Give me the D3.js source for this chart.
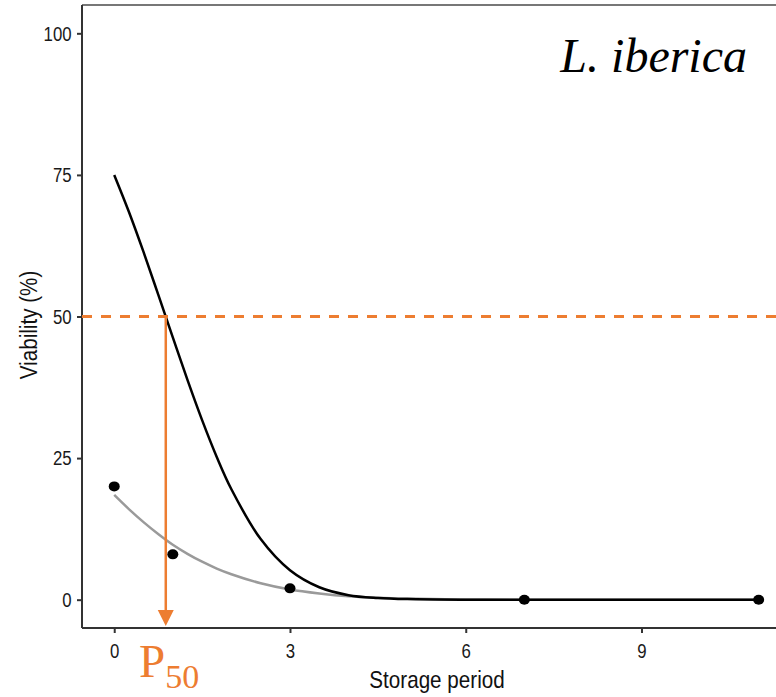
<!DOCTYPE html>
<html>
<head>
<meta charset="utf-8">
<script src="https://cdn.jsdelivr.net/npm/d3@7"></script>
<style>
  body { margin: 0; background: #fff; }
  svg { display: block; }
</style>
</head>
<body>
<svg id="chart" width="776" height="697"></svg>
<script>
// observed viability (%) at each storage period
var obsPeriod = [0, 1, 3, 7, 11];
var obsViab = [20, 8, 2, 0, 0];

// fitted curves
var fitPeriod = [0, 0.25, 0.5, 0.75, 1, 1.25, 1.5, 1.75, 2, 2.5, 3, 3.5, 4, 4.5, 5, 6, 7, 9, 11];
var blackFit = [75, 68.5, 61.4, 53.9, 46.3, 38.8, 31.7, 25.2, 19.5, 10.7, 5.2, 2.2, 0.8, 0.3, 0.1, 0, 0, 0, 0];
var greyFit = [18.5, 16, 13.7, 11.6, 9.7, 8.1, 6.7, 5.5, 4.5, 2.9, 1.8, 1.1, 0.6, 0.35, 0.2, 0.05, 0, 0, 0];

var xTicks = [0, 3, 6, 9];
var yTicks = [0, 25, 50, 75, 100];
var p50 = 0.88;        // period where the black fit crosses 50 %
var cutLine = 50;
var species = "L. iberica";

var svg = d3.select("#chart");
var squish = 0.8;      // ggplot text in the picture is horizontally squeezed

var x = d3.scaleLinear().domain([-0.55, 11.55]).range([82, 790.9]);
var y = d3.scaleLinear().domain([-5, 105]).range([628, 5]);

// panel border (top line visible, right edge cropped)
svg.append("line")
  .attr("x1", 82).attr("x2", 776).attr("y1", 5).attr("y2", 5)
  .style("stroke", "#777").style("stroke-width", 2);

// axes
var yAxis = svg.append("g")
  .attr("transform", "translate(82,0)")
  .call(d3.axisLeft(y).tickValues(yTicks).tickSize(5).tickPadding(8));
var xAxis = svg.append("g")
  .attr("transform", "translate(0,628)")
  .call(d3.axisBottom(x).tickValues(xTicks).tickSize(5).tickPadding(10));

[yAxis, xAxis].forEach(function (ax) {
  ax.select(".domain").style("stroke", "#333").style("stroke-width", 2);
  ax.selectAll(".tick line").style("stroke", "#333").style("stroke-width", 2);
  ax.selectAll(".tick text")
    .style("font-family", "Liberation Sans, Arial, sans-serif")
    .style("font-size", "21px")
    .style("fill", "#1a1a1a")
    .attr("transform", "scale(" + squish + ",1)");
});
// make y domain reach the top border
yAxis.select(".domain").attr("d", "M0,5V628");
xAxis.select(".domain").attr("d", "M82,0H776");

// axis titles
svg.append("text")
  .attr("transform", "translate(437,688) scale(0.86,1)")
  .attr("text-anchor", "middle")
  .style("font-family", "Liberation Sans, Arial, sans-serif")
  .style("font-size", "24px")
  .style("fill", "#111")
  .text("Storage period");

svg.append("text")
  .attr("transform", "translate(37,325) rotate(-90) scale(0.86,1)")
  .attr("text-anchor", "middle")
  .style("font-family", "Liberation Sans, Arial, sans-serif")
  .style("font-size", "24px")
  .style("fill", "#111")
  .text("Viability (%)");

var line = d3.line().curve(d3.curveCatmullRom)
  .x(function (d, i) { return x(fitPeriod[i]); })
  .y(function (d) { return y(d); });

svg.append("path")
  .attr("d", line(greyFit))
  .style("fill", "none").style("stroke", "#9a9a9a").style("stroke-width", 2.5);

svg.append("path")
  .attr("d", line(blackFit))
  .style("fill", "none").style("stroke", "#000").style("stroke-width", 2.5);

svg.selectAll(".pt")
  .data(obsViab)
  .enter().append("ellipse")
  .attr("class", "pt")
  .attr("cx", function (d, i) { return x(obsPeriod[i]); })
  .attr("cy", function (d) { return y(d); })
  .attr("rx", 5.5).attr("ry", 5)
  .style("fill", "#000");

// P50 guide
var orange = "#ED7D31";
svg.append("line")
  .attr("x1", 82).attr("x2", 776)
  .attr("y1", y(cutLine)).attr("y2", y(cutLine))
  .style("stroke", orange).style("stroke-width", 3)
  .style("stroke-dasharray", "10,9");

svg.append("line")
  .attr("x1", x(p50)).attr("x2", x(p50))
  .attr("y1", y(cutLine)).attr("y2", 611)
  .style("stroke", orange).style("stroke-width", 2.5);

svg.append("path")
  .attr("d", "M" + (x(p50) - 8) + ",610L" + (x(p50) + 8) + ",610L" + x(p50) + ",626Z")
  .style("fill", orange);

var lab = svg.append("text")
  .attr("x", 139).attr("y", 677)
  .style("font-family", "Liberation Serif, Times New Roman, serif")
  .style("fill", orange);
lab.append("tspan").style("font-size", "47px").text("P");
lab.append("tspan").attr("y", 688).style("font-size", "34px").text("50");

// species label
svg.append("text")
  .attr("x", 747).attr("y", 72)
  .attr("text-anchor", "end")
  .style("font-family", "Liberation Serif, Times New Roman, serif")
  .style("font-style", "italic")
  .style("font-size", "48px")
  .style("fill", "#000")
  .text(species);
</script>
</body>
</html>
